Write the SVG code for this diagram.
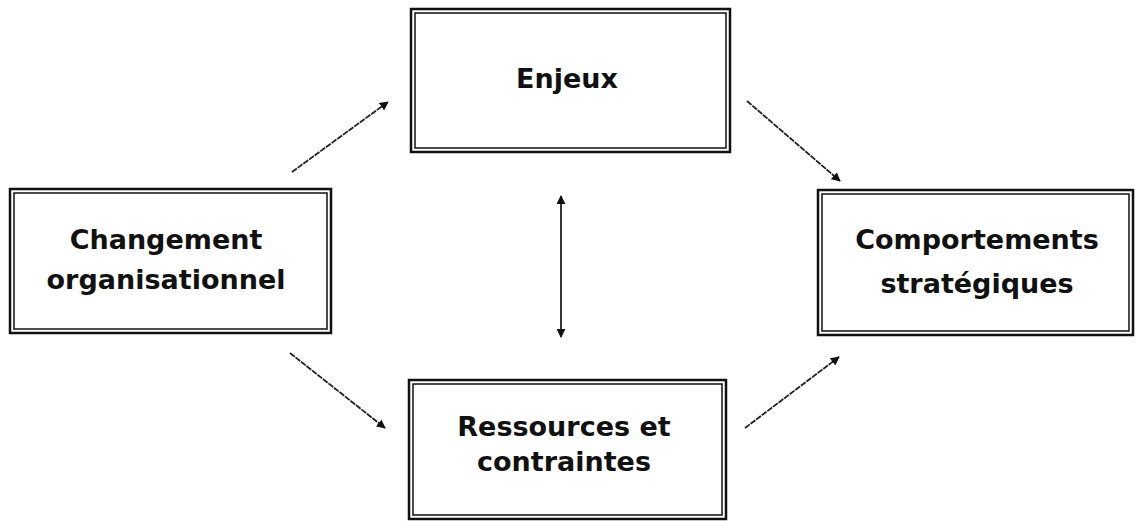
<svg xmlns="http://www.w3.org/2000/svg" width="1137" height="521" viewBox="0 0 1137 521">
  <style>
    .outer { fill: #fff; stroke: #111; stroke-width: 2.5; }
    .inner { fill: none; stroke: #111; stroke-width: 1.5; }
    .label { font-family: "DejaVu Sans", "Liberation Sans", sans-serif; font-weight: bold; font-size: 27px; fill: #111; text-anchor: middle; }
    .link { stroke: #222; stroke-width: 1.8; stroke-dasharray: 6 1; fill: none; marker-end: url(#head); }
    .solid { stroke-dasharray: none; }
  </style>
  <defs>
    <marker id="head" viewBox="0 0 10 10" refX="9" refY="5" markerWidth="9" markerHeight="9" markerUnits="userSpaceOnUse" orient="auto-start-reverse">
      <path d="M0,0 L10,5 L0,10 z" fill="#111"/>
    </marker>
  </defs>
  <rect width="1137" height="521" fill="#fff"/>

  <g id="enjeux">
    <rect class="outer" x="411" y="9" width="319" height="143"/>
    <rect class="inner" x="415" y="13" width="311" height="135"/>
    <text class="label" x="567" y="88">Enjeux</text>
  </g>

  <g id="changement">
    <rect class="outer" x="10" y="189" width="321" height="144"/>
    <rect class="inner" x="14" y="193" width="313" height="136"/>
    <text class="label" x="166" y="249">Changement</text>
    <text class="label" x="166" y="289">organisationnel</text>
  </g>

  <g id="comportements">
    <rect class="outer" x="818" y="190" width="315" height="145"/>
    <rect class="inner" x="822" y="194" width="307" height="137"/>
    <text class="label" x="977" y="249">Comportements</text>
    <text class="label" x="977" y="293">stratégiques</text>
  </g>

  <g id="ressources">
    <rect class="outer" x="409" y="380" width="317" height="139"/>
    <rect class="inner" x="413" y="384" width="309" height="131"/>
    <text class="label" x="564" y="436">Ressources et</text>
    <text class="label" x="564" y="471">contraintes</text>
  </g>

  <g id="connectors">
    <line class="link" x1="292" y1="172" x2="388" y2="102"/>
    <line class="link" x1="747" y1="101" x2="840" y2="181"/>
    <line class="link" x1="290" y1="353" x2="385" y2="428"/>
    <line class="link" x1="745" y1="428" x2="839" y2="357"/>
    <line class="link solid" x1="561" y1="196" x2="561" y2="337" marker-start="url(#head)"/>
  </g>
</svg>
